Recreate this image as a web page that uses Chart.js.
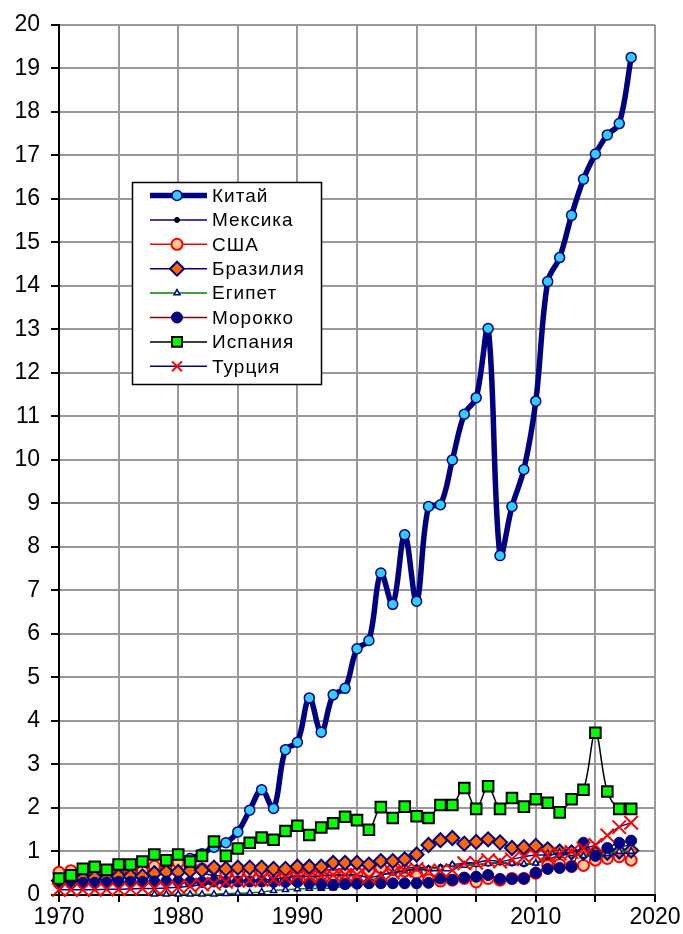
<!DOCTYPE html>
<html>
<head>
<meta charset="utf-8">
<script src="https://cdn.jsdelivr.net/npm/chart.js@4.4.1/dist/chart.umd.min.js"></script>
<style>
  html, body { margin: 0; padding: 0; background: #fff; }
  #wrap { width: 683px; height: 934px; }
</style>
</head>
<body>
<div id="wrap"><canvas id="chart" width="683" height="934"></canvas></div>
<script>
// years 1970..2018
const years = [1970, 1971, 1972, 1973, 1974, 1975, 1976, 1977, 1978, 1979,
               1980, 1981, 1982, 1983, 1984, 1985, 1986, 1987, 1988, 1989,
               1990, 1991, 1992, 1993, 1994, 1995, 1996, 1997, 1998, 1999,
               2000, 2001, 2002, 2003, 2004, 2005, 2006, 2007, 2008, 2009,
               2010, 2011, 2012, 2013, 2014, 2015, 2016, 2017, 2018];

const china = [null, null, null, null, null, null, null, null, null, null,
               null, 0.84, 0.95, 1.1, 1.2, 1.45, 1.95, 2.42, 1.99, 3.34,
               3.51, 4.53, 3.74, 4.6, 4.75, 5.66, 5.85, 7.4, 6.68, 8.28,
               6.75, 8.93, 8.97, 10.0, 11.05, 11.43, 13.02, 7.8, 8.93, 9.78,
               11.35, 14.1, 14.65, 15.62, 16.45, 17.03, 17.47, 17.73, 19.25];

const mexico = [0.42, 0.42, 0.44, 0.45, 0.46, 0.45, 0.46, 0.47, 0.48, 0.5,
                0.52, 0.55, 0.5, 0.45, 0.44, 0.46, 0.47, 0.5, 0.5, 0.52,
                0.55, 0.56, 0.58, 0.58, 0.6, 0.55, 0.57, 0.6, 0.6, 0.62,
                0.64, 0.62, 0.65, 0.7, 0.72, 0.7, 0.72, 0.74, 0.72, 0.7,
                0.73, 0.82, 0.9, 0.95, 0.9, 0.9, 1.0, 1.1, 1.15];

const usa = [0.52, 0.56, 0.5, 0.48, 0.46, 0.48, 0.5, 0.55, 0.66, 0.58,
             0.75, 0.65, 0.6, 0.62, 0.5, 0.5, 0.5, 0.55, 0.5, 0.45,
             0.45, 0.42, 0.44, 0.46, 0.48, 0.5, 0.55, 0.62, 0.58, 0.55,
             0.5, 0.35, 0.32, 0.34, 0.38, 0.3, 0.38, 0.34, 0.38, 0.38,
             0.5, 0.68, 0.7, 0.66, 0.68, 0.8, 0.84, 0.88, 0.8];

const brazil = [0.33, 0.36, 0.38, 0.4, 0.38, 0.43, 0.43, 0.43, 0.5, 0.53,
                0.53, 0.56, 0.57, 0.63, 0.6, 0.63, 0.63, 0.63, 0.6, 0.6,
                0.65, 0.65, 0.65, 0.74, 0.74, 0.74, 0.7, 0.78, 0.78, 0.82,
                0.93, 1.15, 1.26, 1.31, 1.18, 1.22, 1.28, 1.21, 1.08, 1.1,
                1.13, 1.05, 1.0, 0.98, 0.97, 0.95, 0.97, 1.0, 1.02];

const egypt = [null, null, null, null, null, null, null, null, 0.02, 0.02,
               0.02, 0.02, 0.02, 0.02, 0.03, 0.04, 0.05, 0.07, 0.1, 0.12,
               0.14, 0.15, 0.15, 0.16, 0.2, 0.22, 0.3, 0.45, 0.52, 0.55,
               0.6, 0.6, 0.62, 0.7, 0.68, 0.7, 0.72, 0.75, 0.73, 0.72,
               0.73, 0.95, 0.98, 0.95, 0.9, 0.9, 0.95, 1.0, 1.0];

const morocco = [0.26, 0.27, 0.28, 0.28, 0.29, 0.3, 0.3, 0.3, 0.31, 0.31,
                 0.31, 0.3, 0.3, 0.31, 0.3, 0.31, 0.31, 0.31, 0.3, 0.3,
                 0.3, 0.27, 0.25, 0.23, 0.25, 0.26, 0.27, 0.27, 0.27, 0.27,
                 0.27, 0.28, 0.38, 0.35, 0.4, 0.42, 0.46, 0.37, 0.37, 0.38,
                 0.51, 0.6, 0.62, 0.65, 1.2, 0.9, 1.08, 1.2, 1.25];

const spain = [0.38, 0.45, 0.6, 0.65, 0.58, 0.7, 0.7, 0.77, 0.93, 0.8,
               0.93, 0.77, 0.9, 1.23, 0.9, 1.07, 1.2, 1.32, 1.27, 1.47,
               1.59, 1.38, 1.55, 1.65, 1.8, 1.72, 1.5, 2.02, 1.77, 2.03,
               1.81, 1.77, 2.07, 2.07, 2.46, 1.98, 2.5, 1.98, 2.23, 2.03,
               2.2, 2.12, 1.9, 2.2, 2.42, 3.73, 2.38, 1.98, 1.98];

const turkey = [0.12, 0.12, 0.12, 0.12, 0.13, 0.13, 0.14, 0.15, 0.15, 0.16,
                0.18, 0.2, 0.24, 0.26, 0.3, 0.33, 0.34, 0.35, 0.36, 0.4,
                0.44, 0.42, 0.44, 0.46, 0.46, 0.46, 0.4, 0.46, 0.51, 0.56,
                0.6, 0.56, 0.56, 0.57, 0.73, 0.74, 0.8, 0.77, 0.82, 0.88,
                0.92, 0.92, 0.95, 0.99, 1.07, 1.15, 1.37, 1.56, 1.66];

const NAVY = '#000080';
const FONT = '"Liberation Sans", Arial, sans-serif';

function toPoints(values) {
    return values.map((v, i) => ({ x: years[i], y: v }));
}

function series(label, values, opts) {
    return {
        label: label,
        data: toPoints(values),
        borderColor: opts.line,
        borderWidth: opts.lineWidth || 1.5,
        pointStyle: opts.style,
        pointRadius: opts.radius,
        pointBackgroundColor: opts.fill,
        pointBorderColor: opts.border,
        pointBorderWidth: opts.borderWidth,
        tension: 0.35,
        order: opts.order,
        clip: false,
        spanGaps: false
    };
}

const datasets = [
    series('Китай', china, { line: NAVY, lineWidth: 5.5, style: 'circle', radius: 5, fill: '#33CCFF', border: NAVY, borderWidth: 1.5, order: 8 }),
    series('Мексика', mexico, { line: NAVY, style: 'circle', radius: 2.5, fill: '#000', border: '#000', borderWidth: 1, order: 7 }),
    series('США', usa, { line: '#FF0000', style: 'circle', radius: 5.5, fill: '#FFCC99', border: '#FF0000', borderWidth: 2, order: 6 }),
    series('Бразилия', brazil, { line: NAVY, style: 'rectRot', radius: 7, fill: '#FF6600', border: NAVY, borderWidth: 2, order: 5 }),
    series('Египет', egypt, { line: '#008000', style: 'triangle', radius: 3.5, fill: '#fff', border: NAVY, borderWidth: 1.5, order: 4 }),
    series('Морокко', morocco, { line: '#800000', style: 'circle', radius: 5.5, fill: NAVY, border: NAVY, borderWidth: 1, order: 3 }),
    series('Испания', spain, { line: '#000', style: 'rect', radius: 7.5, fill: '#00FF00', border: '#000', borderWidth: 2, order: 2 }),
    series('Турция', turkey, { line: NAVY, style: 'crossRot', radius: 9.5, fill: '#FF0000', border: '#FF0000', borderWidth: 2, order: 1 })
];

// legend box drawn inside the plot, like the original
const boxLegend = {
    id: 'boxLegend',
    afterDraw(chart) {
        const ctx = chart.ctx;
        const left = 132, top = 182, width = 190, height = 203;
        ctx.save();
        ctx.fillStyle = '#fff';
        ctx.fillRect(left, top, width, height);
        ctx.strokeStyle = '#000';
        ctx.lineWidth = 1.5;
        ctx.strokeRect(left + 0.5, top + 0.5, width - 1, height - 1);

        chart.data.datasets.forEach((ds, i) => {
            const y = 195.5 + i * 24.4;
            ctx.beginPath();
            ctx.strokeStyle = ds.borderColor;
            ctx.lineWidth = ds.borderWidth;
            ctx.moveTo(150, y);
            ctx.lineTo(207, y);
            ctx.stroke();

            ctx.fillStyle = ds.pointBackgroundColor;
            ctx.strokeStyle = ds.pointBorderColor;
            ctx.lineWidth = ds.pointBorderWidth;
            Chart.helpers.drawPoint(ctx, {
                pointStyle: ds.pointStyle,
                radius: Math.min(ds.pointRadius, 7),
                borderWidth: ds.pointBorderWidth,
                rotation: 0
            }, 177, y);

            ctx.fillStyle = '#000';
            ctx.font = '19px ' + FONT;
            ctx.letterSpacing = '1px';
            ctx.textBaseline = 'middle';
            ctx.textAlign = 'left';
            ctx.fillText(ds.label, 212, y + 1);
        });
        ctx.restore();
    }
};

new Chart(document.getElementById('chart').getContext('2d'), {
    type: 'line',
    data: { datasets: datasets },
    plugins: [boxLegend],
    options: {
        responsive: false,
        animation: false,
        layout: { padding: { top: 23, right: 28, left: 0, bottom: 0 } },
        plugins: {
            legend: { display: false },
            tooltip: { enabled: false }
        },
        scales: {
            x: {
                type: 'linear',
                min: 1970,
                max: 2020,
                afterFit: (scale) => { scale.height = 39; },
                ticks: {
                    stepSize: 5,
                    autoSkip: false,
                    maxRotation: 0,
                    padding: 2,
                    color: '#000',
                    font: { family: FONT, size: 23 },
                    callback: (v) => (v % 10 === 0 ? String(v) : '')
                },
                grid: { color: '#999', lineWidth: 2, tickLength: 7, tickColor: '#000', tickWidth: 2 },
                border: { display: true, color: '#000', width: 2 }
            },
            y: {
                min: 0,
                max: 20,
                afterFit: (scale) => { scale.width = 59; },
                ticks: {
                    stepSize: 1,
                    autoSkip: false,
                    padding: 11,
                    color: '#000',
                    font: { family: FONT, size: 23 }
                },
                grid: { color: '#999', lineWidth: 2, tickLength: 8, tickColor: '#000', tickWidth: 2 },
                border: { display: true, color: '#000', width: 2 }
            }
        }
    }
});
</script>
</body>
</html>
